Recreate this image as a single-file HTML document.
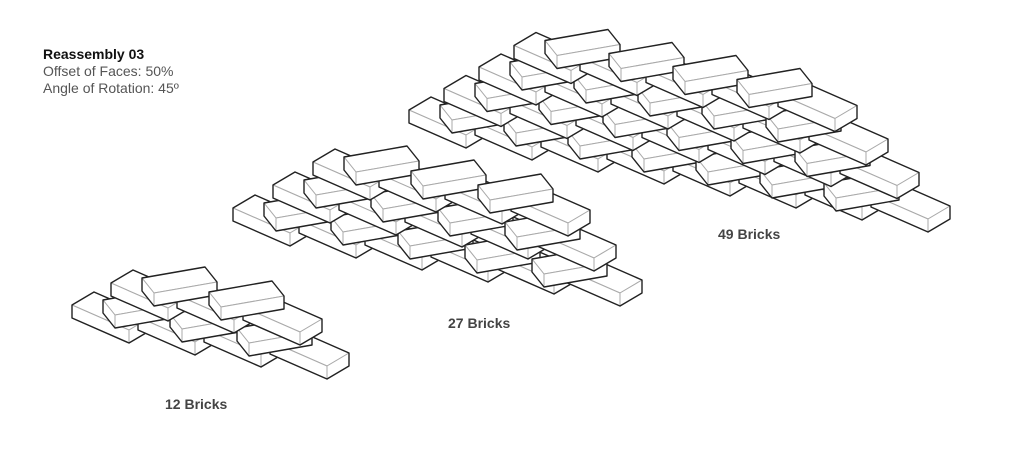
<!DOCTYPE html>
<html><head><meta charset="utf-8">
<style>
html,body{margin:0;padding:0;background:#fff;width:1024px;height:455px;overflow:hidden}
.t{position:absolute;font-family:"Liberation Sans",sans-serif;font-size:14px;white-space:nowrap}
</style></head><body>
<svg id="s" width="1024" height="455" style="position:absolute;left:0;top:0"></svg>
<div class="t" style="left:43px;top:46px;font-weight:bold;color:#111">Reassembly 03</div>
<div class="t" style="left:43px;top:63px;color:#555">Offset of Faces: 50%</div>
<div class="t" style="left:43px;top:80px;color:#555">Angle of Rotation: 45º</div>
<div class="t" style="left:718px;top:226px;font-weight:bold;color:#444">49 Bricks</div>
<div class="t" style="left:448px;top:315px;font-weight:bold;color:#444">27 Bricks</div>
<div class="t" style="left:165px;top:396px;font-weight:bold;color:#444">12 Bricks</div>
<script>
var out='';
var H=13;
function P(a){return a.map(function(p){return p[0].toFixed(1)+','+p[1].toFixed(1)}).join(' ');}
function add(a,b){return [a[0]+b[0],a[1]+b[1]];}
function poly(pts,st,w){out+='<polygon points="'+P(pts)+'" fill="#fff" stroke="'+st+'" stroke-width="'+w+'" stroke-linejoin="round"/>';}
var L=[57,25],S=[22,-13],L2=[63,-11],D2=[12,15],h=[0,H];
function Dbrick(p){
  var a=p,b=add(p,S),c=add(b,L),d=add(p,L);
  poly([a,b,c,d],'#aaa',1);
  poly([a,d,add(d,h),add(a,h)],'#aaa',1);
  poly([d,c,add(c,h),add(d,h)],'#aaa',1);
  out+='<polygon points="'+P([a,b,c,add(c,h),add(d,h),add(a,h)])+'" fill="none" stroke="#222" stroke-width="1.4" stroke-linejoin="round"/>';
}
function Ubrick(bl){
  var f=add(bl,D2),br=add(bl,L2),fr=add(f,L2);
  poly([bl,br,fr,f],'#aaa',1);
  poly([f,fr,add(fr,h),add(f,h)],'#aaa',1);
  poly([bl,f,add(f,h),add(bl,h)],'#aaa',1);
  out+='<polygon points="'+P([bl,br,fr,add(fr,h),add(f,h),add(bl,h)])+'" fill="none" stroke="#222" stroke-width="1.4" stroke-linejoin="round"/>';
}
function group(p0,nD,tiers,rs,us,ts){
  for(var k=0;k<tiers;k++){
    var o=[p0[0]+k*ts[0],p0[1]+k*ts[1]];
    for(var i=0;i<nD-k;i++) Dbrick([o[0]+i*rs[0],o[1]+i*rs[1]]);
    var u=[o[0]+31,o[1]-5];
    for(var i=0;i<nD-1-k;i++) Ubrick([u[0]+i*us[0],u[1]+i*us[1]]);
  }
}
group([72,305],4,2,[66,12],[67,14],[39,-22]);
group([233,208],6,3,[66,12],[67,14],[40,-23]);
group([409,110],8,4,[66,12],[64,13],[35,-21.5]);
document.getElementById('s').innerHTML=out;
</script>
</body></html>
